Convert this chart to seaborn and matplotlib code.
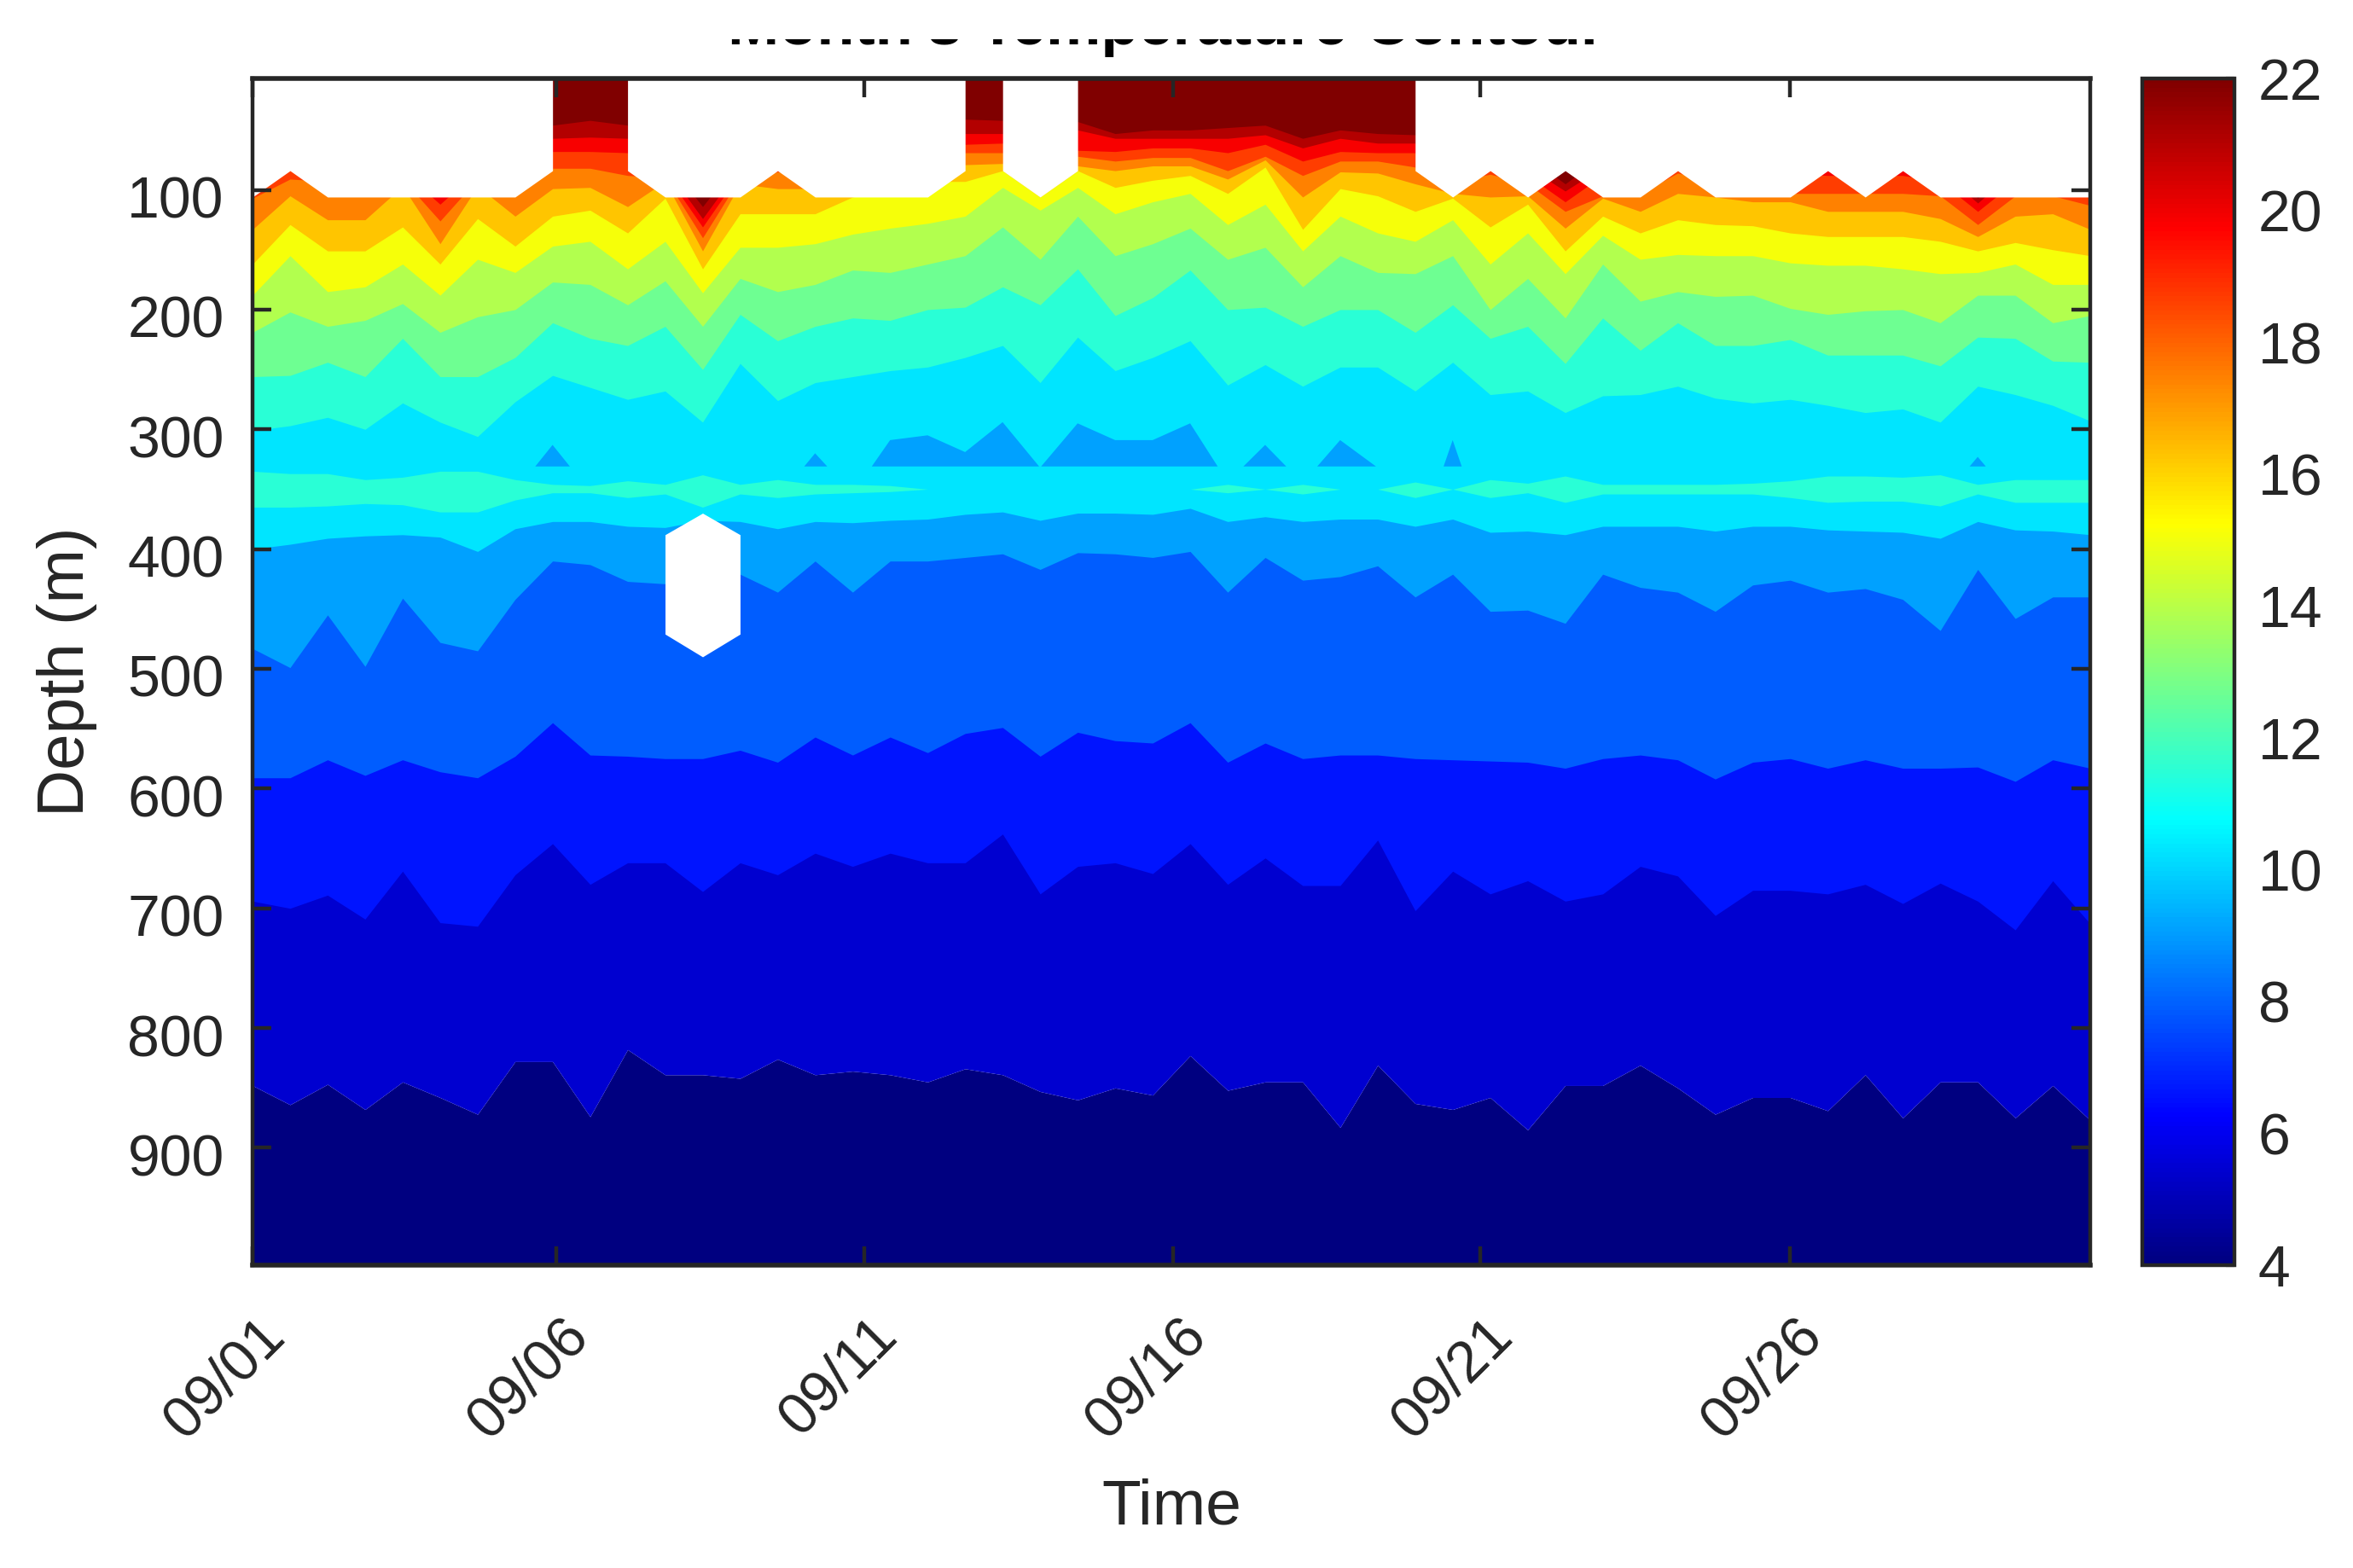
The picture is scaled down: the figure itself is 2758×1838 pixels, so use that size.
import numpy as np
import matplotlib
matplotlib.use("Agg")
import matplotlib.pyplot as plt
import seaborn as sns
from matplotlib.cm import ScalarMappable
from matplotlib.colors import LinearSegmentedColormap, Normalize
from matplotlib.patches import Rectangle
from matplotlib.transforms import ScaledTranslation

# Depth (m) of each isotherm per sample, 50 samples over the month
iso_05_2 = [848,864,847,868,845,858,872,828,828,874,818,839,839,842,826,839,836,839,845,834,839,853,860,850,856,823,852,845,845,883,831,863,868,858,885,848,848,831,850,872,858,858,869,839,875,845,845,875,848,877]
iso_06_4 = [694,700,689,709,669,712,715,672,646,680,662,662,686,662,672,654,665,654,662,662,638,688,665,662,671,646,680,658,681,681,643,702,669,688,677,694,688,665,673,706,685,685,688,680,696,679,694,718,677,713]
iso_07_6 = [591,591,576,589,576,586,591,573,545,572,573,575,575,568,578,557,572,557,570,554,549,573,553,560,562,545,578,562,575,572,572,575,576,577,578,583,575,572,576,592,578,575,583,576,583,583,582,594,576,583]
iso_08_8 = [483,499,455,498,441,478,485,442,410,413,427,429,430,421,436,410,436,410,410,407,404,417,403,404,407,402,436,407,426,423,414,440,421,452,451,462,421,432,436,452,430,426,436,433,442,468,417,458,440,440]
iso_10_0 = [400,396,391,389,388,390,402,383,377,377,381,382,376,377,383,377,378,376,375,371,369,376,370,370,371,366,377,373,377,375,375,381,375,386,385,388,381,381,381,385,381,381,384,385,386,391,377,384,385,388]
iso_11_2 = [301,297,290,300,278,294,306,277,255,265,275,268,294,245,276,261,256,251,248,240,230,261,223,251,240,226,263,246,264,248,248,268,244,271,268,286,272,271,264,274,278,275,280,286,283,294,264,271,280,293]
iso_12_4 = [256,255,244,256,224,256,256,240,211,224,230,214,250,204,226,214,207,209,200,198,181,196,166,205,190,167,200,198,214,200,200,219,196,224,214,245,207,234,211,230,230,225,238,238,238,247,223,224,243,244]
iso_13_6 = [219,202,214,209,195,219,206,200,177,179,196,176,214,174,185,179,167,169,162,155,131,158,122,155,145,132,158,148,181,155,169,170,155,200,174,207,162,193,185,189,188,199,204,201,200,211,188,188,211,205]
iso_14_8 = [188,155,185,181,162,188,158,169,147,143,166,143,186,148,148,145,137,132,128,122,98,117,98,120,110,103,129,112,151,122,136,143,125,162,136,170,138,158,154,155,155,161,163,163,166,170,169,162,179,179]
iso_16_0 = [162,129,151,151,131,162,124,147,122,117,136,107,166,120,120,120,106,98,93,93,84,106,84,98,92,88,103,81,133,99,105,118,107,131,112,151,122,136,125,129,130,136,139,139,139,143,151,144,150,155]
iso_17_2 = [133,105,125,125,97,145,97,122,99,98,114,93,151,95,99,99,93,88,84,79,78,98,80,84,80,80,91,75,106,85,86,95,103,106,105,132,107,118,103,106,110,110,118,118,118,124,139,122,120,133]
iso_18_4 = [107,91,93,93,91,126,91,93,82,82,88,90,140,90,85,88,84,81,76,69,69,93,72,76,73,73,84,72,88,76,76,81,93,87,95,118,105,103,86,93,95,103,103,103,103,105,129,105,105,113]
iso_19_6 = [88,81,84,84,84,112,84,84,68,68,69,86,131,86,79,81,76,72,69,62,61,84,67,68,65,65,69,62,76,68,69,69,81,81,88,110,88,88,81,84,84,86,88,88,88,93,118,93,93,100]
iso_20_8 = [79,74,74,74,74,100,74,74,57,56,57,81,124,81,72,72,67,62,57,53,53,74,50,57,57,57,57,54,65,57,61,61,72,74,81,101,81,81,74,74,74,76,79,79,79,84,111,84,84,93]
iso_22_0 = [72,65,65,65,65,91,65,65,46,42,46,74,114,74,65,62,60,55,48,41,42,65,43,53,50,50,48,46,57,50,53,54,65,67,72,95,72,72,67,67,67,69,72,72,72,76,107,76,76,88]

# Warmer layer and cooler patches inside the thermocline
warm_top = [335,337,337,342,340,335,335,342,346,347,343,346,338,346,342,346,346,347,350,350,350,350,350,350,350,350,346,350,346,350,350,344,350,342,345,339,346,346,346,346,345,343,339,339,340,338,346,342,342,342]
warm_bottom = [365,365,364,362,363,369,369,359,353,353,357,354,365,354,357,354,353,352,350,350,350,350,350,350,350,350,353,350,354,350,350,357,350,357,353,361,354,354,354,354,354,357,361,360,360,364,354,361,361,361]
cool_top = [352,352,352,352,352,352,352,352,313,352,352,352,352,352,358,320,354,309,305,319,294,332,295,309,309,295,344,313,345,309,332,400,309,400,352,352,352,352,352,352,352,352,352,352,352,360,323,360,352,352]
cool_base = 331

# Shallowest valid depth per sample (nan = data up to the surface)
nan = float("nan")
data_top = [106,84,106,106,106,106,106,106,84,nan,84,106,106,106,84,106,106,106,106,84,84,106,84,nan,nan,nan,nan,nan,nan,nan,nan,84,106,84,106,84,106,106,84,106,106,106,84,106,84,106,106,106,106,106]
gap_top = [nan]*11 + [388,370,388] + [nan]*36
gap_bottom = [nan]*11 + [471,490,471] + [nan]*36

isotherms = [iso_05_2, iso_06_4, iso_07_6, iso_08_8, iso_10_0, iso_11_2, iso_12_4, iso_13_6,
             iso_14_8, iso_16_0, iso_17_2, iso_18_4, iso_19_6, iso_20_8, iso_22_0]

sample_step = 0.6088  # days
days = np.arange(len(iso_05_2)) * sample_step
tick_days = [0, 4.93, 9.93, 14.95, 19.93, 24.95]
tick_labels = ["09/01", "09/06", "09/11", "09/16", "09/21", "09/26"]
depth_ticks = [100, 200, 300, 400, 500, 600, 700, 800, 900]
temp_ticks = [4, 6, 8, 10, 12, 14, 16, 18, 20, 22]
depth_top, depth_bottom = 7, 998

sns.set_theme(style="white", font="Liberation Sans")
dark = "#262626"

# MATLAB flavour of jet, matplotlib's own has its yellow and red elsewhere
jet = LinearSegmentedColormap.from_list("matlab_jet", [
    (0, (0, 0, 0.5)), (0.125, (0, 0, 1)), (0.375, (0, 1, 1)),
    (0.625, (1, 1, 0)), (0.875, (1, 0, 0)), (1, (0.5, 0, 0))], N=256)
band_colors = [jet(0.0)] + [jet(i / 15 + 0.015) for i in range(1, 15)] + [jet(1.0)]

W, H = 2758, 1838
fig = plt.figure(figsize=(W / 100, H / 100), dpi=100)
ax = fig.add_axes([296 / W, 1 - 1483 / H, 2154 / W, 1391 / H])
cax = fig.add_axes([2511 / W, 1 - 1483 / H, 108 / W, 1391 / H])

# Paint bands from cold to warm, each one covers everything above its isotherm
ax.fill_between(days, depth_bottom, iso_05_2, color=band_colors[0], linewidth=0)
for k, iso in enumerate(isotherms):
    ax.fill_between(days, depth_top, iso, color=band_colors[k + 1], linewidth=0)

ax.fill_between(days, cool_top, cool_base, where=np.array(cool_top) < cool_base,
                interpolate=True, color=band_colors[4], linewidth=0)
ax.fill_between(days, warm_top, warm_bottom, color=band_colors[6], linewidth=0)

# Missing data stays white
top_arr = np.array(data_top)
for start, end in [(0, 8), (10, 19), (20, 22), (31, 49)]:
    ax.fill_between(days[start:end + 1], depth_top, top_arr[start:end + 1], color="white", linewidth=0)
ax.fill_between(days, gap_top, gap_bottom, color="white", linewidth=0)

ax.set_axisbelow(False)
ax.set_xlim(days[0], days[-1])
ax.set_ylim(depth_bottom, depth_top)
ax.set_yticks(depth_ticks)
ax.set_xticks(tick_days, tick_labels, rotation=45, ha="right", rotation_mode="anchor")
ax.tick_params(axis="both", direction="in", length=16, width=3.2, top=True, right=True,
               bottom=True, left=True, colors=dark, labelsize=49, pad=24)
ax.tick_params(axis="x", pad=36)
ax.set_xlabel("Time", fontsize=54, color=dark)
ax.set_ylabel("Depth (m)", fontsize=55, color=dark)
ax.xaxis.set_label_coords(0.5, -(1767 - 1483) / 1391, transform=ax.transAxes)
ax.xaxis.label.set_va("center")
ax.yaxis.set_label_coords((78 - 296) / 2154, 0.5, transform=ax.transAxes)
ax.yaxis.label.set_va("center")

# labels sit a bit off their ticks in the original
for lab in ax.get_yticklabels():
    lab.set_transform(lab.get_transform() + ScaledTranslation(0, -0.08, fig.dpi_scale_trans))
for lab in ax.get_xticklabels():
    lab.set_transform(lab.get_transform() + ScaledTranslation(0.05, 0, fig.dpi_scale_trans))

cbar = fig.colorbar(ScalarMappable(Normalize(temp_ticks[0], temp_ticks[-1]), jet), cax=cax)
cbar.set_ticks(temp_ticks)
cbar.ax.tick_params(direction="in", length=7, width=3, colors=dark, labelsize=49, pad=20)
cbar.outline.set_linewidth(3.2)
cbar.outline.set_edgecolor(dark)

for name, spine in ax.spines.items():
    spine.set_visible(True)
    spine.set_linewidth(4 if name in ("top", "bottom") else 3.2)
    spine.set_color(dark)

# Title is cut off in the original figure, only its lowest slice shows
fig.text(1367 / W, 1 - 52 / H, "Month's Temperature Contour", fontsize=52, fontweight="bold",
         color="black", ha="center", va="baseline")
fig.add_artist(Rectangle((0, 1 - 46 / H), 1, 46 / H, transform=fig.transFigure,
                         facecolor="white", edgecolor="none", zorder=10))

fig.savefig("out.png", dpi=100)
